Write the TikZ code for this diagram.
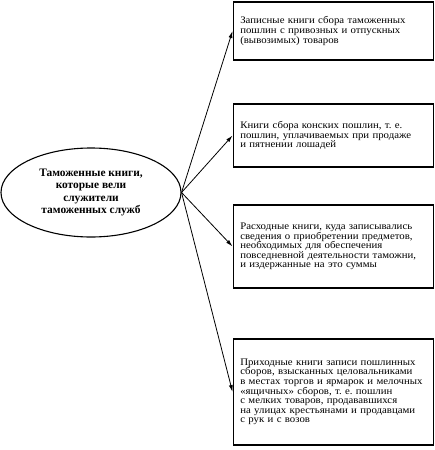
\documentclass[tikz,border=0pt]{standalone}
\usepackage{fontspec}
\setmainfont{Liberation Serif}
\newfontfamily\wideserif[FakeStretch=1.08]{Liberation Serif}
\usetikzlibrary{arrows.meta,positioning,shapes.geometric}
\frenchspacing

\begin{document}
\begin{tikzpicture}[
  x=1pt, y=-1pt,
  source/.style={
    ellipse, draw, line width=1.1pt,
    minimum width=180pt, minimum height=89pt, inner sep=0pt,
    align=center, font=\fontsize{11.4}{12.6}\selectfont\bfseries
  },
  book/.style={
    rectangle, draw, line width=1.5pt,
    minimum width=200pt, text width=186pt, inner xsep=7pt,
    align=left, font=\wideserif\fontsize{10}{9.6}\selectfont
  },
  link/.style={
    -{Latex[length=7pt,width=4pt]}, line width=0.8pt
  }
]
\useasboundingbox (0,0) rectangle (434,450);

% Source in the left
\node[source] (ell) at (91,192.5)
  {Таможенные книги,\\которые вели\\служители\\таможенных служб};

% Kinds of books on the right
\node[book, minimum height=58pt, right=51pt of ell.east, yshift=161.5pt] (entry)
  {Записные книги сбора таможенных\\пошлин с привозных и отпускных\\(вывозимых) товаров};
\node[book, minimum height=63pt, right=51pt of ell.east, yshift=57pt] (horse)
  {Книги сбора конских пошлин, т. е.\\пошлин, уплачиваемых при продаже\\и пятнении лошадей};
\node[book, minimum height=83pt, right=51pt of ell.east, yshift=-54pt] (spend)
  {Расходные книги, куда записывались\\сведения о приобретении предметов,\\необходимых для обеспечения\\повседневной деятельности таможни,\\и издержанные на это суммы};
\node[book, minimum height=106pt, right=51pt of ell.east, yshift=-199.5pt] (income)
  {Приходные книги записи пошлинных\\сборов, взысканных целовальниками\\в местах торгов и ярмарок и мелочных\\«ящичных» сборов, т. е. пошлин\\с мелких товаров, продававшихся\\на улицах крестьянами и продавцами\\с рук и с возов};

% Arrows
\draw[link] (ell.east) -- (entry.west);
\draw[link] (ell.east) -- (horse.west);
\draw[link] (ell.east) -- (spend.west);
\draw[link] (ell.east) -- (income.west);

\end{tikzpicture}
\end{document}
